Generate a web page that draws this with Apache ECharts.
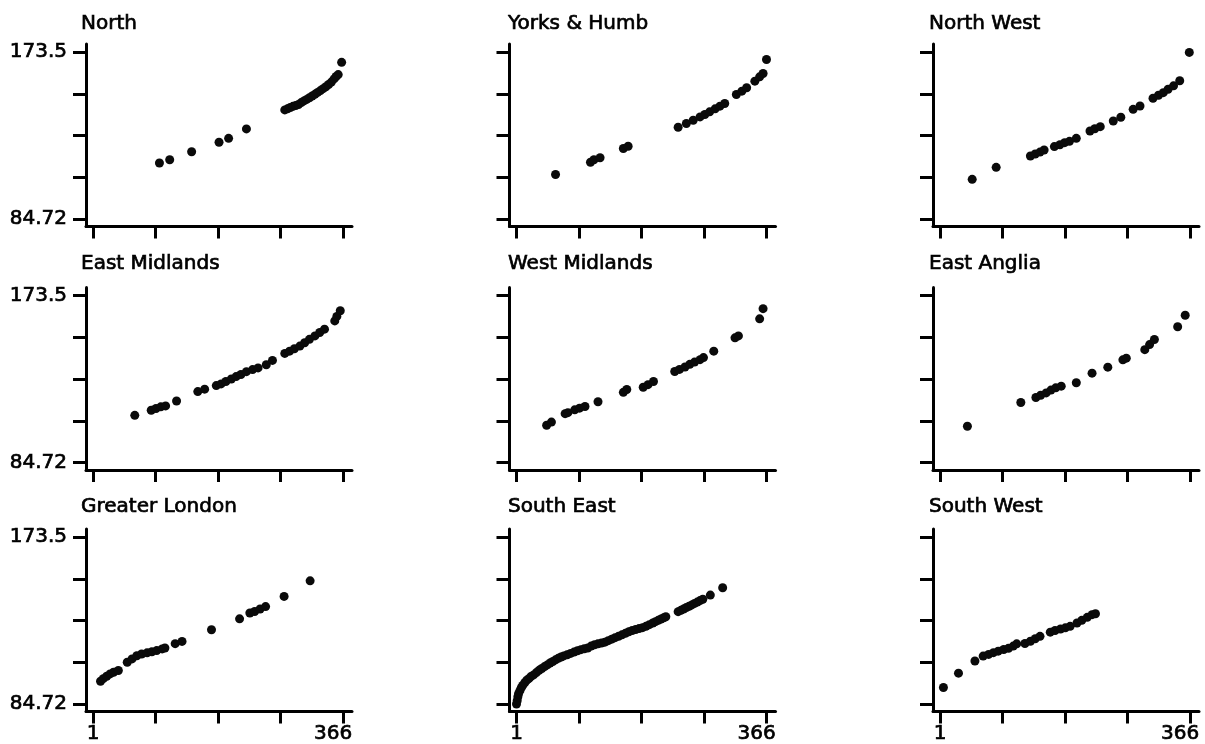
<!DOCTYPE html>
<html><head><meta charset="utf-8">
<script src="https://cdn.jsdelivr.net/npm/echarts@6/dist/echarts.min.js"></script>
<style>html,body{margin:0;padding:0;background:#fff}#c{width:1205px;height:744px}</style>
</head><body><div id="c"></div>
<script>
// ---- data ----
const regionNames = ['North', 'Yorks & Humb', 'North West', 'East Midlands', 'West Midlands', 'East Anglia', 'Greater London', 'South East', 'South West'];
const xTickValues = [1, 92.25, 183.5, 274.75, 366];
const xLabelValues = [1, 366];
const xLabelTexts = ['1', '366'];
const yTickValues = [84.72, 106.915, 129.11, 151.305, 173.5];
const yLabelValues = [84.72, 173.5];
const yLabelTexts = ['84.72', '173.5'];

const north = [[98,114.5],[113,116.2],[145,120.5],[185,125.5],[199,127.6],[225,132.6],[281,142.7],[285,143.3],[289,144.0],[293,144.6],[297,145.0],[301,145.6],[305,146.6],[309,147.5],[313,148.3],[317,149.2],[321,150.1],[325,151.0],[329,152.0],[333,153.0],[337,154.0],[341,155.0],[345,156.2],[349,157.5],[353,159.2],[356,160.5],[359,161.5],[364,168.0]];
const yorksHumb = [[58,108.4],[109,114.9],[114,116.2],[123,117.3],[157,122.2],[164,123.4],[237,133.5],[249,135.5],[259,137.2],[269,139.0],[276,140.3],[283,141.7],[291,143.3],[298,144.7],[305,146.1],[322,150.9],[330,152.7],[337,154.5],[349,158.0],[356,160.3],[361,162.1],[366,169.5]];
const northWest = [[48,105.8],[83,112.2],[133,118.2],[140,119.3],[147,120.3],[153,121.4],[168,123.2],[176,124.2],[183,125.3],[190,126.0],[200,127.6],[220,131.5],[227,132.7],[235,133.8],[254,136.8],[265,138.8],[283,143.0],[293,144.8],[312,148.9],[320,150.5],[327,151.9],[334,153.7],[342,155.5],[351,158.2],[365,173.3]];
const eastMidlands = [[62,109.8],[86,112.5],[93,113.4],[100,114.3],[107,114.8],[123,117.4],[154,122.4],[164,123.7],[181,125.6],[188,126.5],[195,127.8],[203,129.1],[210,130.4],[217,131.5],[225,133.0],[234,134.1],[242,135.0],[254,136.7],[263,139.0],[281,142.7],[288,143.9],[295,145.2],[303,146.6],[310,148.4],[317,150.2],[325,152.0],[332,153.8],[339,155.6],[354,160.0],[357,162.4],[362,165.4]];
const westMidlands = [[45,104.5],[52,106.2],[72,110.7],[76,111.2],[86,112.7],[93,113.6],[101,114.5],[120,117.0],[157,122.0],[162,123.5],[186,124.7],[193,126.1],[201,127.8],[232,133.1],[239,134.2],[247,135.5],[254,136.9],[261,138.1],[269,139.4],[274,140.5],[289,143.9],[320,151.0],[325,152.0],[356,161.1],[361,166.5]];
const eastAnglia = [[41,104.0],[119,116.6],[141,119.3],[148,120.5],[156,121.7],[163,123.2],[170,124.4],[178,125.3],[200,127.1],[223,132.2],[246,135.4],[268,139.3],[273,140.2],[300,144.7],[307,147.4],[314,150.1],[348,156.9],[359,163.0]];
const greaterLondon = [[12,96.8],[16,98.2],[21,99.5],[26,100.7],[31,101.6],[38,102.5],[51,106.9],[58,108.7],[65,110.4],[72,111.3],[80,111.9],[87,112.5],[94,113.1],[102,114.0],[106,114.5],[121,116.8],[131,118.0],[174,124.2],[215,130.0],[230,133.1],[237,133.9],[245,135.2],[253,136.5],[280,141.9],[318,150.2]];
const southEast = [[1,84.7],[2,86.5],[3,88.6],[4,90.2],[6,91.8],[8,93.4],[10,94.6],[13,96.0],[16,97.4],[19,98.2],[22,99.3],[26,100.2],[30,101.4],[34,102.6],[38,103.6],[42,104.6],[46,105.5],[50,106.5],[54,107.3],[58,108.2],[62,109.0],[66,109.7],[70,110.3],[75,110.9],[80,111.6],[85,112.3],[90,113.0],[95,113.6],[100,114.1],[105,114.5],[110,115.5],[115,116.2],[120,116.7],[125,117.1],[130,117.6],[135,118.4],[140,119.2],[145,120.0],[150,120.7],[155,121.5],[160,122.3],[165,123.1],[170,123.8],[175,124.3],[180,124.8],[185,125.3],[190,126.0],[195,126.9],[200,127.8],[204,128.5],[208,129.2],[212,129.9],[216,130.6],[219,131.1],[237,133.8],[241,134.5],[245,135.2],[249,136.0],[253,136.7],[257,137.4],[261,138.2],[265,138.9],[269,139.7],[273,140.4],[284,142.6],[302,146.5]];
const southWest = [[6,93.5],[28,101.1],[52,107.6],[64,110.2],[72,111.1],[79,112.0],[86,112.8],[94,113.7],[101,114.3],[108,115.5],[113,116.7],[125,116.9],[133,118.1],[140,119.4],[147,120.7],[162,122.9],[169,123.8],[177,124.6],[184,125.2],[191,126.0],[201,127.8],[208,129.2],[216,130.8],[223,132.2],[228,132.7]];

const panels = [north, yorksHumb, northWest, eastMidlands, westMidlands, eastAnglia, greaterLondon, southEast, southWest];

// ---- layout ----
const FONT = 'DejaVu Sans';
const colX1 = [93, 516.5, 940];
const rowYT = [52, 295.5, 537];
const titleLeft = [81, 508, 929];
const titleTop = [14, 254, 497];
const TICK_W = 250, TICK_H = 167;
const padL = 7, padR = 9, padT = 8, padB = 7.5;
const xFirst = xTickValues[0], xLast = xTickValues[xTickValues.length - 1];
const yFirst = yTickValues[0], yLast = yTickValues[yTickValues.length - 1];
const dayPerPx = (xLast - xFirst) / TICK_W;
const valPerPx = (yLast - yFirst) / TICK_H;
const xMin = xFirst - padL * dayPerPx, xMax = xLast + padR * dayPerPx;
const yMin = yFirst - padB * valPerPx, yMax = yLast + padT * valPerPx;

const txt = { fontFamily: FONT, fontSize: 20, color: '#000', textBorderColor: '#000', textBorderWidth: 0.7 };

function nearestText(v, vals, texts) {
  let b = 0;
  for (let i = 1; i < vals.length; i++) if (Math.abs(v - vals[i]) < Math.abs(v - vals[b])) b = i;
  return texts[b];
}

const grid = [], xAxis = [], yAxis = [], series = [], title = [];
panels.forEach((data, i) => {
  const r = Math.floor(i / 3), c = i % 3;
  grid.push({
    left: colX1[c] - padL, top: rowYT[r] - padT,
    width: TICK_W + padL + padR, height: TICK_H + padT + padB,
    containLabel: false
  });
  title.push({
    text: regionNames[i], left: titleLeft[c], top: titleTop[r],
    padding: 0,
    textStyle: Object.assign({ fontWeight: 'normal' }, txt)
  });
  xAxis.push({
    gridIndex: i, type: 'value', min: xMin, max: xMax,
    splitLine: { show: false },
    axisLine: { show: true, onZero: false, lineStyle: { color: '#000', width: 3 } },
    axisTick: { show: true, customValues: xTickValues, length: 12, lineStyle: { color: '#000', width: 3 } },
    axisLabel: {
      show: r === 2, customValues: xLabelValues, margin: 12,
      formatter: v => {
        const t = nearestText(v, xLabelValues, xLabelTexts);
        return t === xLabelTexts[xLabelTexts.length - 1] ? '{r|' + t + '}' : '{l|' + t + '}';
      },
      rich: {
        l: Object.assign({}, txt),
        r: Object.assign({ width: 58, align: 'left' }, txt)
      }
    }
  });
  yAxis.push({
    gridIndex: i, type: 'value', min: yMin, max: yMax,
    splitLine: { show: false },
    axisLine: { show: true, onZero: false, lineStyle: { color: '#000', width: 3 } },
    axisTick: { show: true, customValues: yTickValues, length: 13, lineStyle: { color: '#000', width: 3 } },
    axisLabel: Object.assign({
      show: c === 0, customValues: yLabelValues, margin: 19,
      formatter: v => nearestText(v, yLabelValues, yLabelTexts)
    }, txt)
  });
  series.push({
    type: 'scatter', xAxisIndex: i, yAxisIndex: i, data: data,
    symbol: 'circle', symbolSize: 9, silent: true,
    itemStyle: { color: '#0a0a0a', opacity: 1 }
  });
});

const chart = echarts.init(document.getElementById('c'), null, { renderer: 'canvas' });
chart.setOption({ animation: false, backgroundColor: '#fff', title, grid, xAxis, yAxis, series });
</script>
</body></html>
